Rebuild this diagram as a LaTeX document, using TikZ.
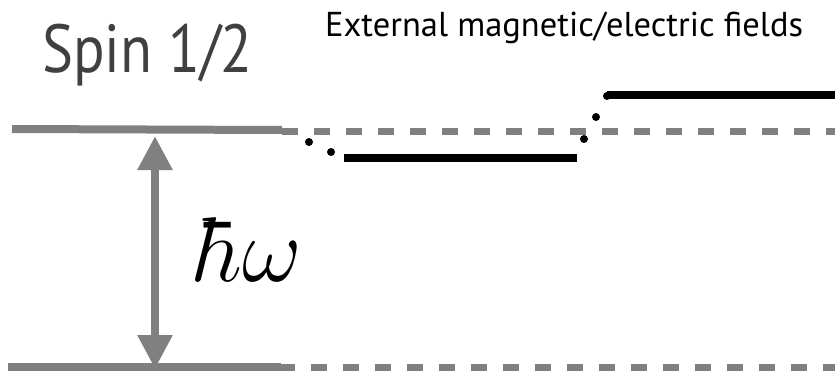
\RequirePackage{fix-cm}
\documentclass[tikz,border=0pt]{standalone}
\usepackage{fontspec}
\setmainfont{PT Sans}
\usetikzlibrary{arrows.meta}

\begin{document}
\begin{tikzpicture}[x=1pt, y=-1pt,
  level/.style={line width=8pt, draw=black!50},
  dlevel/.style={line width=7pt, draw=black!50, dash pattern=on 16pt off 16pt},
  shifted/.style={line width=7.5pt, draw=black},
  jump/.style={circle, fill=black, inner sep=0pt, minimum size=8pt},
  arr/.style={{Triangle[width=33pt,length=34pt]}-{Triangle[width=33pt,length=34pt]}, line width=8.5pt, draw=black!50},
  lbl/.style={inner sep=0pt, anchor=base west}
]
\useasboundingbox (0,0) rectangle (835,372);
\node[lbl, text=black!75, font=\fontsize{68}{68}\selectfont] (spin) at (42,72) {\scalebox{0.86}[1]{Spin 1/2}};
\node[lbl, font=\fontsize{34.5}{34.5}\selectfont] (ext) at (325,36) {External magnetic/electric fields};
\draw[level] (12,129) -- (282,130);
\draw[dlevel] (282,131) -- (835,131);
\draw[level] (8,367) -- (281,367);
\draw[dlevel] (279,367) -- (835,367);
\coordinate (up) at (155,136);
\coordinate (lo) at (155,369);
\draw[arr] (lo) -- (up);
\node[lbl, font=\fontsize{92}{92}\selectfont] (hw) at (198,281) {$\hbar\omega$};
\draw[shifted] (344,158) -- (577,158);
\draw[shifted] (607,95) -- (835,95);
\node[jump] (d1) at (309,142) {};
\node[jump] (d2) at (331,152) {};
\node[jump] (d3) at (584,139) {};
\node[jump] (d4) at (596,117) {};
\node[jump] (d5) at (607,96) {};
\end{tikzpicture}
\end{document}
